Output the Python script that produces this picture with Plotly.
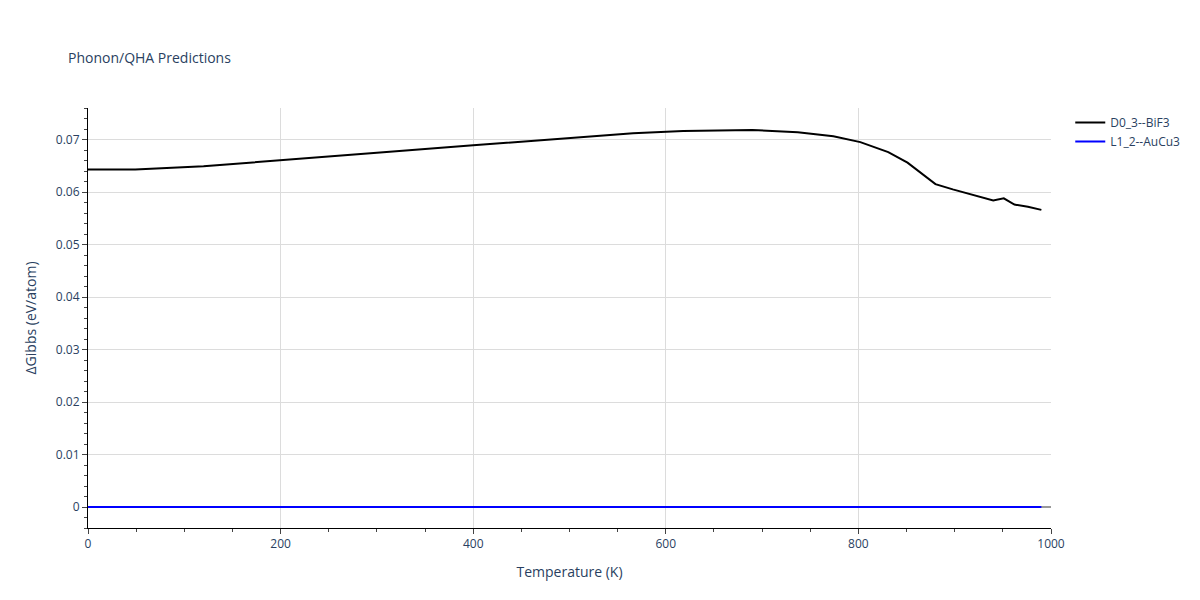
import plotly.graph_objects as go

temps = [0, 49, 120, 200, 300, 400, 500, 566, 618, 690, 737, 774, 802, 831, 851, 880, 898, 920, 940, 951, 962, 976, 990]
d03 = [0.0643, 0.0643, 0.0649, 0.0660, 0.0675, 0.0689, 0.0702, 0.0712, 0.0716, 0.0718, 0.0714, 0.0706, 0.0695, 0.0676, 0.0656, 0.0615, 0.0605, 0.0594, 0.0584, 0.0588, 0.0576, 0.0572, 0.0566]
l12_t = [0, 990]
l12 = [0, 0]

fig = go.Figure()
fig.add_trace(go.Scatter(x=temps, y=d03, mode="lines", name="D0_3--BiF3", line=dict(color="black", width=2)))
fig.add_trace(go.Scatter(x=l12_t, y=l12, mode="lines", name="L1_2--AuCu3", line=dict(color="blue", width=2)))
fig.update_layout(
    width=1200, height=600, template="plotly_white",
    margin=dict(l=80, r=157, t=100, b=80),
    title=dict(text="Phonon/QHA Predictions", font=dict(size=14), x=0.05, y=0.925),
    xaxis=dict(title="Temperature (K)", range=[0, 1000], showline=True, linecolor="black",
               ticks="outside", minor=dict(ticks="outside", dtick=50), dtick=200, zeroline=False,
               gridcolor="#dcdcdc"),
    yaxis=dict(title="ΔGibbs (eV/atom)", range=[-0.004, 0.076], showline=True, linecolor="black",
               ticks="outside", dtick=0.01, minor=dict(ticks="outside", dtick=0.002), zeroline=True,
               zerolinecolor="#999", tickformat="~g", gridcolor="#dcdcdc"),
)
fig.write_html("out.html")
